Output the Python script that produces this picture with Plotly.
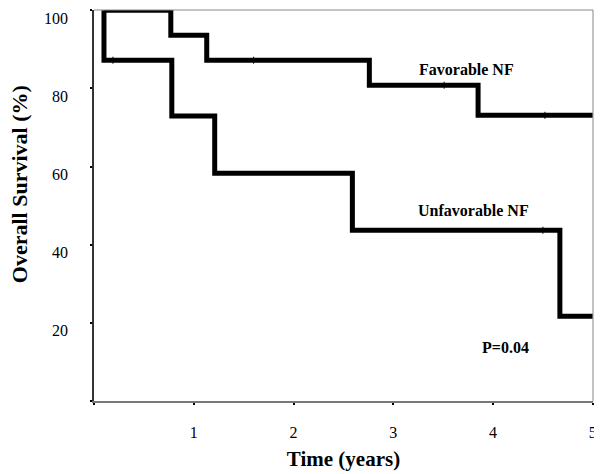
import plotly.graph_objects as go

# Kaplan-Meier step data
fav_time = [0.1, 0.77, 1.13, 2.76, 3.85, 5.0]
fav_surv = [100, 93.6, 87.2, 80.8, 73.1, 73.1]
unf_time = [0.1, 0.1, 0.78, 1.21, 2.59, 4.67, 5.0]
unf_surv = [100, 87.2, 72.9, 58.3, 43.7, 21.7, 21.7]

# censor marks
fav_cens_t = [1.6, 3.51, 4.52]
fav_cens_s = [87.2, 80.8, 73.1]
unf_cens_t = [0.19, 4.5]
unf_cens_s = [87.2, 43.7]

x_ticks = [0, 1, 2, 3, 4, 5]
x_ticktext = ["", "1", "2", "3", "4", "5"]
y_ticks = [0, 20, 40, 60, 80, 100]
y_ticktext = ["", "20", "40", "60", "80", "100"]

FONT = "Liberation Serif, Times New Roman, serif"

fig = go.Figure()
fig.add_trace(go.Scatter(x=fav_time, y=fav_surv, mode="lines", line_shape="hv", cliponaxis=False,
                         line=dict(color="black", width=5), name="Favorable NF"))
fig.add_trace(go.Scatter(x=unf_time, y=unf_surv, mode="lines", line_shape="hv", cliponaxis=False,
                         line=dict(color="black", width=5), name="Unfavorable NF"))
fig.add_trace(go.Scatter(x=fav_cens_t + unf_cens_t, y=fav_cens_s + unf_cens_s, mode="markers",
                         marker=dict(symbol="line-ns-open", size=5, color="black",
                                     line=dict(color="#555555", width=1)),
                         hoverinfo="skip"))

fig.add_annotation(x=3.73, y=84.9, text="<b>Favorable NF</b>", showarrow=False,
                   font=dict(family=FONT, size=16, color="black"))
fig.add_annotation(x=3.8, y=48.8, text="<b>Unfavorable NF</b>", showarrow=False,
                   font=dict(family=FONT, size=16, color="black"))
fig.add_annotation(x=4.12, y=13.6, text="<b>P=0.04</b>", showarrow=False,
                   font=dict(family=FONT, size=16, color="black"))

# y-axis title placed as annotation to match offset
fig.add_annotation(xref="paper", yref="paper", x=-0.148, y=0.555, xanchor="center", yanchor="middle",
                   text="<b>Overall Survival (%)</b>", textangle=-90, showarrow=False,
                   font=dict(family=FONT, size=22, color="black"))

# top and right thin borders
fig.add_shape(type="line", xref="paper", yref="paper", x0=0, x1=1, y0=1, y1=1,
              line=dict(color="#888888", width=1))
fig.add_shape(type="line", xref="paper", yref="paper", x0=1, x1=1, y0=0, y1=1,
              line=dict(color="#888888", width=1))

# the page body has an 8px margin, so the margins compensate for it
fig.update_layout(
    width=602, height=474,
    margin=dict(l=86, r=17, t=2, b=81),
    paper_bgcolor="white", plot_bgcolor="white",
    showlegend=False,
    font=dict(family=FONT, color="black"),
    xaxis=dict(range=[0, 5.002], tickvals=x_ticks, ticktext=x_ticktext,
               showgrid=False, zeroline=False,
               showline=True, linecolor="#777777", linewidth=2,
               ticks="outside", ticklen=2, tickwidth=2, tickcolor="black",
               ticklabelstandoff=14,
               tickfont=dict(family=FONT, size=16, color="black"),
               title=dict(text="<b>Time (years)</b>", standoff=11,
                          font=dict(family=FONT, size=21, color="black"))),
    yaxis=dict(range=[0, 100.05], tickvals=y_ticks, ticktext=y_ticktext,
               showgrid=False, zeroline=False,
               showline=True, linecolor="#333333", linewidth=1.5,
               ticks="outside", ticklen=2, tickwidth=2, tickcolor="black",
               ticklabelstandoff=19, ticklabelshift=8,
               tickfont=dict(family=FONT, size=16, color="black")),
)

fig.write_html("out.html")
